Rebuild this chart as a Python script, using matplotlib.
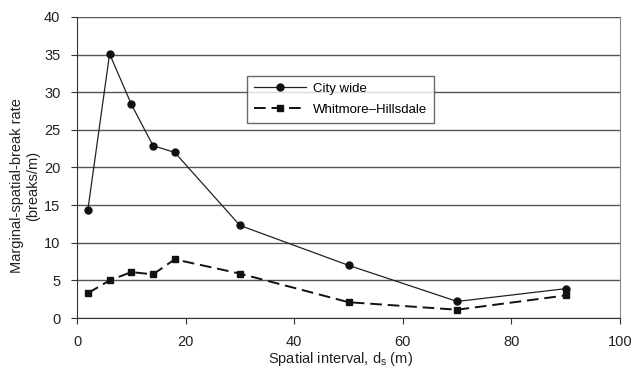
import matplotlib
matplotlib.use("Agg")
import matplotlib.pyplot as plt

plt.rcParams['font.family'] = ['Liberation Sans', 'DejaVu Sans']

interval = [2, 6, 10, 14, 18, 30, 50, 70, 90]
city_wide = [14.4, 35.1, 28.4, 22.9, 22.0, 12.3, 7.0, 2.2, 3.9]
whitmore = [3.3, 5.0, 6.1, 5.8, 7.8, 5.9, 2.1, 1.1, 3.0]

fig = plt.figure(figsize=(6.35, 3.67), dpi=100)
ax = fig.add_axes([0.1213, 0.1335, 0.8551, 0.8202])

ax.set_xlim(0, 100)
ax.set_ylim(0, 40)
ax.set_xticks(range(0, 101, 20))
ax.set_yticks(range(0, 41, 5))
ax.yaxis.grid(True, color='#555555', linewidth=1.0)
ax.set_axisbelow(True)

ax.plot(interval, city_wide, '-', color='#222222', linewidth=0.9,
        marker='o', markersize=5, markerfacecolor='#111111',
        markeredgecolor='#111111', label='City wide')
ax.plot(interval, whitmore, '--', color='#111111', linewidth=1.4,
        dashes=(6, 3), marker='s', markersize=5, markerfacecolor='#111111',
        markeredgecolor='#111111', label='Whitmore\u2013Hillsdale')

ax.spines['top'].set_visible(False)
ax.spines['right'].set_color('#888888')
ax.spines['left'].set_color('#333333')
ax.spines['bottom'].set_color('#333333')
ax.tick_params(axis='both', direction='out', length=4, color='#333333',
               labelsize=10.5, labelcolor='#222222')
ax.tick_params(axis='y', pad=8)
ax.tick_params(axis='x', pad=8)

ax.set_xlabel('Spatial interval, d$_\\mathregular{s}$ (m)', fontsize=10.5,
              color='#222222')
ax.xaxis.set_label_coords(0.486, -0.107)
ax.set_ylabel('Marginal-spatial-break rate\n(breaks/m)', fontsize=10.5,
              color='#222222')
ax.yaxis.set_label_coords(-0.068, 0.44)

leg = ax.legend(loc='upper left', bbox_to_anchor=(0.313, 0.805),
                borderaxespad=0, fontsize=9.5, frameon=True, fancybox=False,
                edgecolor='#444444', handlelength=4.0, borderpad=0.5,
                labelspacing=0.7, handletextpad=0.5)
leg.get_frame().set_linewidth(1.0)

fig.savefig('out.png', dpi=100, facecolor='white')
